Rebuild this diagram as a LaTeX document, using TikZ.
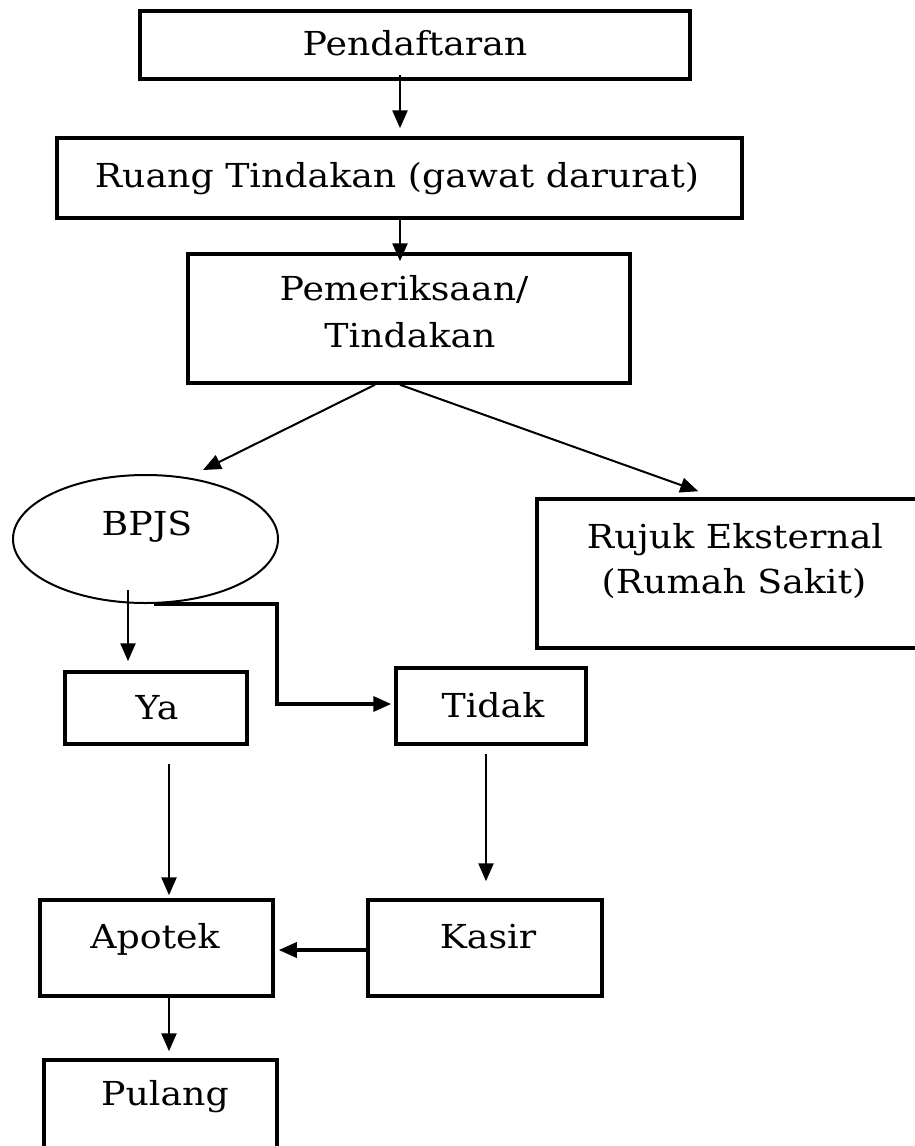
\documentclass[tikz,border=0pt]{standalone}
\usepackage{fontspec}
\setmainfont{DejaVu Serif}[FakeStretch=1.1]
\usetikzlibrary{arrows.meta,calc,shapes.geometric}
\begin{document}
\begin{tikzpicture}[x=1pt,y=-1pt,
  box/.style={draw,line width=3.5pt,rectangle,inner sep=0pt},
  oval/.style={draw,line width=2pt,ellipse,inner sep=0pt},
  lbl/.style={anchor=base,inner sep=0pt,font=\fontsize{33}{40}\selectfont},
  tip/.style={-{Triangle[width=15pt,length=18pt]}},
  arr/.style={line width=2.5pt,tip},
  thinarr/.style={line width=2pt,tip},
  thickarr/.style={line width=3.5pt,tip}]
\useasboundingbox (0,0) rectangle (915,1146);
\clip (0,0) rectangle (915,1146);
% boxes
\node[box,minimum width=550pt,minimum height=68pt] (pend) at (415,45) {};
\node[box,minimum width=685pt,minimum height=80pt] (ruang) at (399.5,178) {};
\node[box,minimum width=442pt,minimum height=129pt] (pem) at (409,318.5) {};
\node[box,minimum width=393pt,minimum height=149pt] (rujuk) at (733.5,573.5) {};
\node[oval,minimum width=265pt,minimum height=128pt] (bpjs) at (145.5,539) {};
\node[box,minimum width=182pt,minimum height=72pt] (ya) at (156,708) {};
\node[box,minimum width=190pt,minimum height=76pt] (tidak) at (491,706) {};
\node[box,minimum width=233pt,minimum height=96pt] (apotek) at (156.5,948) {};
\node[box,minimum width=234pt,minimum height=96pt] (kasir) at (485,948) {};
\node[box,minimum width=233pt,minimum height=100pt] (pulang) at (160.5,1110) {};
% labels
\node[lbl] (tpend) at (415,55) {Pendaftaran};
\node[lbl] (truang) at (397,187) {Ruang Tindakan (gawat darurat)};
\node[lbl] (tpem1) at (404,300) {Pemeriksaan/};
\node[lbl] (tpem2) at (410,347) {Tindakan};
\node[lbl] (tbpjs) at (147,535) {BPJS};
\node[lbl] (truj1) at (735,548) {Rujuk Eksternal};
\node[lbl] (truj2) at (734,593) {(Rumah Sakit)};
\node[lbl] (tya) at (157,719) {Ya};
\node[lbl] (ttidak) at (493,717) {Tidak};
\node[lbl] (tapotek) at (155,948) {Apotek};
\node[lbl] (tkasir) at (488,948) {Kasir};
\node[lbl] (tpulang) at (165,1105) {Pulang};
% connectors
\draw[arr] ($(pend.south)+(-15,-6)$) -- ($(ruang.north)+(0.5,-8)$);
\draw[arr] ($(ruang.south)+(0.5,0)$) -- ($(pem.north)+(-9,9)$);
\draw[thinarr] ($(pem.south)+(-34,0)$) -- ($(bpjs.center)+(57.5,-69)$);
\draw[thinarr] ($(pem.south)+(-9,0)$) -- ($(rujuk.north west)+(163,-6)$);
\draw[arr] ($(bpjs.center)+(-17.5,51)$) -- ($(ya.north)+(-28,-9)$);
\coordinate (elbow) at ($(bpjs.south)+(131.5,0)$);
\draw[thickarr] ($(bpjs.south)+(8,0)$) -- (elbow) |- ($(tidak.west)+(-3,-2)$);
\draw[arr] ($(ya.south)+(13,18)$) -- ($(apotek.north)+(12.5,-3)$);
\draw[arr] ($(tidak.south)+(-5,8)$) -- ($(kasir.north)+(1,-17)$);
\draw[thickarr] ($(kasir.west)+(0,2)$) -- ($(apotek.east)+(4,2)$);
\draw[arr] ($(apotek.south)+(12.5,-4)$) -- ($(pulang.north)+(8.5,-7)$);
\end{tikzpicture}
\end{document}
